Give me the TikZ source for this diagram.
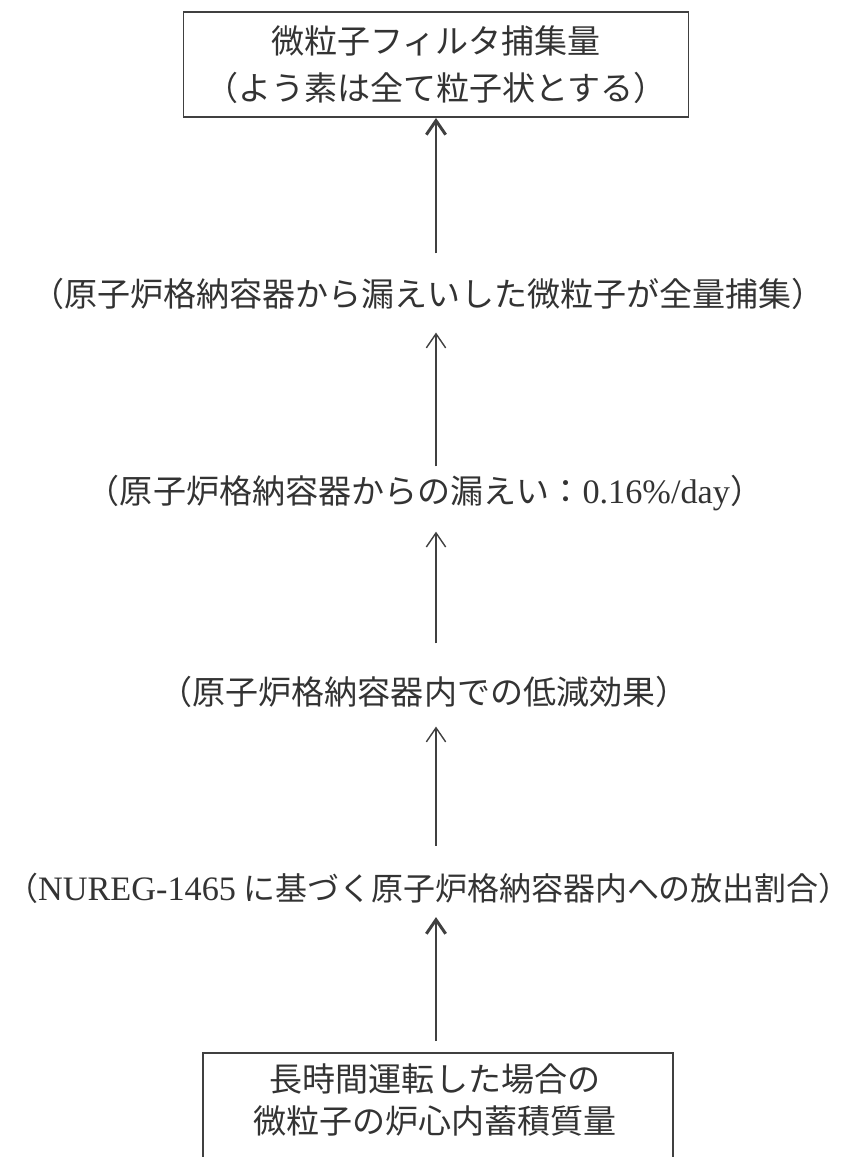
\documentclass[tikz,border=0pt]{standalone}
\usepackage{fontspec}
\setmainfont{Liberation Serif}
\newfontfamily\jp{Noto Sans CJK JP}
\usepackage{tikz}
\usetikzlibrary{arrows.meta,positioning,fit}

\newcommand{\latin}[1]{{\rmfamily\fontsize{19.5pt}{24pt}\selectfont #1}}

\tikzset{
  box/.style={draw=black!75, line width=1.1pt},
  stage/.style={inner sep=0pt, text=black!80, font=\jp\fontsize{18.8pt}{24pt}\selectfont},
  flow/.style={-{Straight Barb[length=8pt,width=11pt]}, draw=black!75, line width=0.8pt},
  bigflow/.style={flow, line width=1.7pt}
}

\begin{document}
\begin{tikzpicture}
\clip (0,0) rectangle (17.14,-23.14);
% top box
\node[box, stage, align=center, minimum width=10.1cm, minimum height=2.1cm,
      font=\jp\fontsize{18.8pt}{27pt}\selectfont] (top) at (8.72,-1.29)
      {微粒子フィルタ捕集量\\（よう素は全て粒子状とする）};
% intermediate steps
\node[stage] (t1) at (8.56,-5.88) {（原子炉格納容器から漏えいした微粒子が全量捕集）};
\node[stage] (t2) at (8.50,-9.86) {（原子炉格納容器からの漏えい：\latin{0.16\%/day}）};
\node[stage] (t3) at (8.48,-13.84) {（原子炉格納容器内での低減効果）};
\node[stage, font=\jp\fontsize{18.2pt}{24pt}\selectfont] (t4) at (8.57,-17.76)
      {（\latin{NUREG-1465} に基づく原子炉格納容器内への放出割合）};
% bottom box
\node[stage, align=center] (srctext) at (8.70,-22.0) {長時間運転した場合の\\微粒子の炉心内蓄積質量};
\coordinate (srcnw) at (4.06,-21.06);
\coordinate (srcse) at (13.46,-24);
\node[box, fit=(srcnw) (srcse), inner sep=0pt] (src) {};
% arrows
\draw[bigflow, shorten <=0.49cm] (t1.north -| top.south) -- (top.south);
\draw[flow, shorten <=0.17cm, shorten >=0.45cm] (t2.north -| top.south) -- (t1.south -| top.south);
\draw[flow, shorten <=0.65cm, shorten >=0.41cm] (t3.north -| top.south) -- (t2.south -| top.south);
\draw[flow, shorten <=0.53cm, shorten >=0.37cm] (t4.north -| top.south) -- (t3.south -| top.south);
\draw[bigflow, shorten <=0.22cm, shorten >=0.27cm] (src.north -| top.south) -- (t4.south -| top.south);
\end{tikzpicture}
\end{document}
